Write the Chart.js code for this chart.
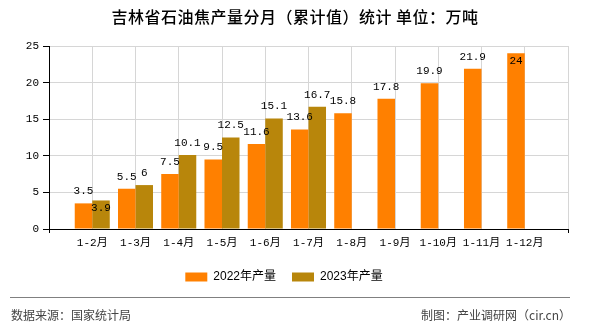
<!DOCTYPE html>
<html>
<head>
<meta charset="utf-8">
<title>吉林省石油焦产量分月（累计值）统计</title>
<script src="https://cdn.jsdelivr.net/npm/chart.js@4/dist/chart.umd.min.js"></script>
<style>
  html, body { margin: 0; padding: 0; background: #fff; }
  #chart { display: block; }
</style>
</head>
<body>
<canvas id="chart" width="590" height="330"></canvas>
<script>
// Cumulative monthly output, 10k tonnes
const months = ['1-2月', '1-3月', '1-4月', '1-5月', '1-6月', '1-7月', '1-8月', '1-9月', '1-10月', '1-11月', '1-12月'];
const output2022 = [3.5, 5.5, 7.5, 9.5, 11.6, 13.6, 15.8, 17.8, 19.9, 21.9, 24];
const output2023 = [3.9, 6, 10.1, 12.5, 15.1, 16.7];
const yTicks = [0, 5, 10, 15, 20, 25];
const seriesNames = ['2022年产量', '2023年产量'];

const titleText = '吉林省石油焦产量分月（累计值）统计 单位：万吨';
const sourceText = '数据来源：国家统计局';
const creditText = '制图：产业调研网（cir.cn）';

const MONO = '"Liberation Mono", "Noto Sans CJK SC", monospace';
const SANS = '"Liberation Sans", "Noto Sans CJK SC", sans-serif';
const CJK = '"Noto Sans CJK SC", sans-serif';
const GRID = '#d6d6d6';

// an empty slot on each side so every pair of bars sits on a grid line
const labels = [''].concat(months, ['']);
const pad = arr => [null].concat(arr, new Array(labels.length - 1 - arr.length).fill(null));

// value above each bar; drops inside the bar when it would clip the top
// or run into the other label of the same month
const valueLabels = {
    id: 'valueLabels',
    afterDatasetsDraw(chart) {
        const { ctx, chartArea } = chart;
        ctx.save();
        ctx.font = '11px ' + MONO;
        ctx.fillStyle = '#000';
        ctx.textAlign = 'center';
        ctx.textBaseline = 'middle';
        const placed = {};
        chart.data.datasets.forEach((ds, di) => {
            chart.getDatasetMeta(di).data.forEach((bar, i) => {
                const v = ds.data[i];
                if (v == null) return;
                const text = String(v);
                const w = ctx.measureText(text).width;
                let y = bar.y - 12;
                const box = { l: bar.x - w / 2, r: bar.x + w / 2, t: y - 5.5, b: y + 5.5 };
                const others = placed[i] || [];
                const hit = others.some(p => box.l < p.r && box.r > p.l && box.t < p.b && box.b > p.t);
                if (box.t < chartArea.top || hit) {
                    y = bar.y + 8;
                    box.t = y - 5.5;
                    box.b = y + 5.5;
                }
                (placed[i] = others).push(box);
                ctx.fillText(text, bar.x, y);
            });
        });
        ctx.restore();
    }
};

// title, source line and credit
const frameText = {
    id: 'frameText',
    afterDraw(chart) {
        const { ctx, width } = chart;
        ctx.save();
        ctx.fillStyle = '#000';
        ctx.textBaseline = 'middle';
        ctx.textAlign = 'center';
        ctx.font = '500 16px ' + CJK;
        ctx.letterSpacing = '0.5px';
        ctx.fillText(titleText, width / 2, 17);
        ctx.letterSpacing = '0px';

        ctx.strokeStyle = '#808080';
        ctx.lineWidth = 1;
        ctx.beginPath();
        ctx.moveTo(10, 297.5);
        ctx.lineTo(570, 297.5);
        ctx.stroke();

        ctx.fillStyle = '#444';
        ctx.font = '12px ' + CJK;
        ctx.textAlign = 'left';
        ctx.fillText(sourceText, 11, 315);
        ctx.textAlign = 'right';
        ctx.fillText(creditText, 571, 315);
        ctx.restore();
    }
};

const ctx = document.getElementById('chart').getContext('2d');

new Chart(ctx, {
    type: 'bar',
    data: {
        labels: labels,
        datasets: [
            {
                label: seriesNames[0],
                data: pad(output2022),
                backgroundColor: '#ff8000',
                categoryPercentage: 0.81,
                barPercentage: 1.0
            },
            {
                label: seriesNames[1],
                data: pad(output2023),
                backgroundColor: '#b8860b',
                categoryPercentage: 0.81,
                barPercentage: 1.0
            }
        ]
    },
    options: {
        responsive: false,
        animation: false,
        layout: { padding: { top: 46, right: 22, bottom: 37, left: 0 } },
        plugins: {
            legend: {
                position: 'bottom',
                labels: {
                    boxWidth: 22,
                    boxHeight: 9,
                    padding: 16,
                    color: '#000',
                    font: { size: 12, family: SANS }
                }
            },
            tooltip: { enabled: false }
        },
        scales: {
            x: {
                offset: false,
                grid: {
                    offset: false,
                    color: GRID,
                    tickLength: 4,
                    tickColor: c => (c.index === 0 || c.index === labels.length - 1) ? '#000' : 'rgba(0,0,0,0)'
                },
                border: { color: '#000' },
                ticks: {
                    autoSkip: false,
                    maxRotation: 0,
                    padding: 3,
                    color: '#000',
                    font: { size: 11, family: MONO }
                },
                afterFit: s => { s.height = 26; }
            },
            y: {
                min: 0,
                max: 25,
                grid: { color: GRID, tickLength: 6, tickColor: '#000' },
                border: { color: '#000' },
                ticks: {
                    padding: 4,
                    color: '#000',
                    font: { size: 11, family: MONO }
                },
                afterBuildTicks: s => { s.ticks = yTicks.map(v => ({ value: v })); },
                afterFit: s => { s.width = 49; }
            }
        }
    },
    plugins: [valueLabels, frameText]
});
</script>
</body>
</html>
